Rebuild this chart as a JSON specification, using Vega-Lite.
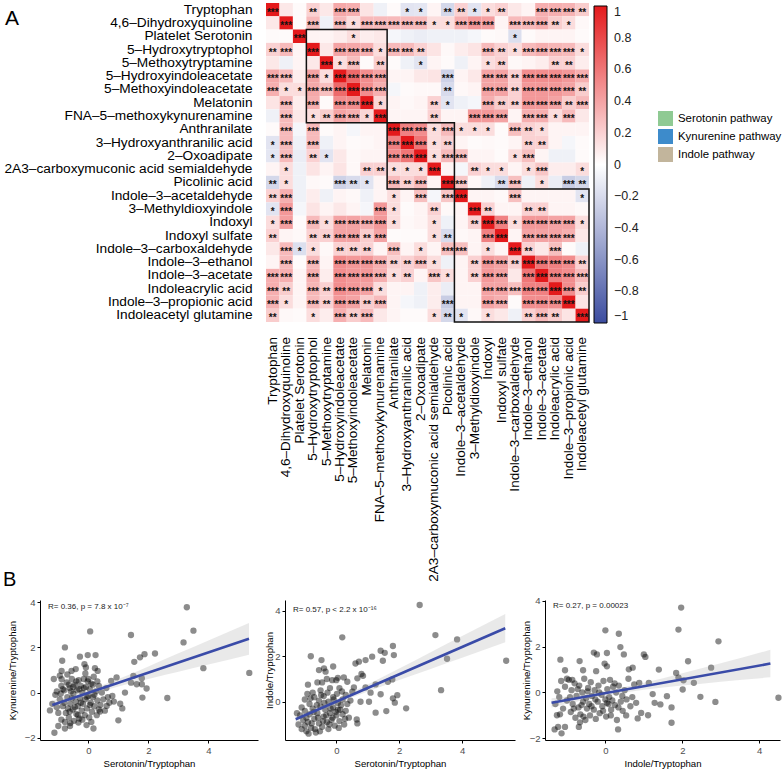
{
"$schema":"https://vega.github.io/schema/vega-lite/v6.json",
"padding":{"left":0,"top":2,"right":0,"bottom":0},
"background":"white",
"config":{"font":"Liberation Sans","view":{"stroke":null},"axis":{"grid":false},"title":{"fontWeight":"normal"}},
"datasets":{
"vars":[
{"k":1,"name":"Tryptophan","p":null},
{"k":2,"name":"4,6–Dihydroxyquinoline","p":null},
{"k":3,"name":"Platelet Serotonin","p":"Serotonin pathway"},
{"k":4,"name":"5–Hydroxytryptophol","p":"Serotonin pathway"},
{"k":5,"name":"5–Methoxytryptamine","p":"Serotonin pathway"},
{"k":6,"name":"5–Hydroxyindoleacetate","p":"Serotonin pathway"},
{"k":7,"name":"5–Methoxyindoleacetate","p":"Serotonin pathway"},
{"k":8,"name":"Melatonin","p":"Serotonin pathway"},
{"k":9,"name":"FNA–5–methoxykynurenamine","p":"Serotonin pathway"},
{"k":10,"name":"Anthranilate","p":"Kynurenine pathway"},
{"k":11,"name":"3–Hydroxyanthranilic acid","p":"Kynurenine pathway"},
{"k":12,"name":"2–Oxoadipate","p":"Kynurenine pathway"},
{"k":13,"name":"2A3–carboxymuconic acid semialdehyde","p":"Kynurenine pathway"},
{"k":14,"name":"Picolinic acid","p":"Kynurenine pathway"},
{"k":15,"name":"Indole–3–acetaldehyde","p":"Indole pathway"},
{"k":16,"name":"3–Methyldioxyindole","p":"Indole pathway"},
{"k":17,"name":"Indoxyl","p":"Indole pathway"},
{"k":18,"name":"Indoxyl sulfate","p":"Indole pathway"},
{"k":19,"name":"Indole–3–carboxaldehyde","p":"Indole pathway"},
{"k":20,"name":"Indole–3–ethanol","p":"Indole pathway"},
{"k":21,"name":"Indole–3–acetate","p":"Indole pathway"},
{"k":22,"name":"Indoleacrylic acid","p":"Indole pathway"},
{"k":23,"name":"Indole–3–propionic acid","p":"Indole pathway"},
{"k":24,"name":"Indoleacetyl glutamine","p":"Indole pathway"}
],
"heat":[
{"y":"Tryptophan","v":[1,0.1,0.02,0.2,0.1,0.38,0.35,0.12,-0.08,0.02,-0.15,-0.14,0.05,-0.22,0.2,-0.15,0.15,0.2,0.1,0.05,0.35,0.35,0.33,0.22],"s":["***","","","**","","***","***","","","","*","*","","**","**","*","*","**","","","***","***","***","**"]},
{"y":"4,6–Dihydroxyquinoline","v":[0.1,1,0.02,0.3,-0.08,0.3,0.15,0.3,0.3,0.3,0.3,0.3,0.15,0.15,0.35,0.45,0.42,0.05,0.3,0.3,0.35,0.22,0.15,0.03],"s":["","***","","***","","***","*","***","***","***","***","***","*","*","***","***","***","","***","***","***","**","*",""]},
{"y":"Platelet Serotonin","v":[0.02,0.02,1,0.05,0.05,0.08,0.15,0.08,0.1,-0.05,-0.08,-0.1,-0.08,-0.08,-0.08,-0.05,0.02,0.03,-0.18,0.02,0.05,0.05,0.05,0.02],"s":["","","***","","","","*","","","","","","","","","","","","*","","","","",""]},
{"y":"5–Hydroxytryptophol","v":[0.2,0.3,0.05,1,0.1,0.4,0.38,0.35,0.15,0.3,0.3,0.2,0.12,0.03,0.08,0.12,0.3,0.2,0.15,0.3,0.35,0.32,0.3,0.15],"s":["**","***","","***","","***","***","***","*","***","***","**","","","","","***","**","*","***","***","***","***","*"]},
{"y":"5–Methoxytryptamine","v":[0.1,-0.08,0.05,0.1,1,0.15,0.28,0.02,0.22,0.02,-0.08,-0.15,0.05,0.02,-0.08,0.05,0.15,0.2,0.03,0.05,0.08,0.2,0.2,0.08],"s":["","","","","***","*","***","","**","","","*","","","","","*","**","","","","**","**",""]},
{"y":"5–Hydroxyindoleacetate","v":[0.38,0.3,0.08,0.4,0.15,1,0.65,0.5,0.4,0.05,0.05,0.1,0.12,-0.25,0.05,0.1,0.4,0.4,0.2,0.5,0.5,0.5,0.45,0.35],"s":["***","***","","***","*","***","***","***","***","","","","","***","","","***","***","**","***","***","***","***","***"]},
{"y":"5–Methoxyindoleacetate","v":[0.35,0.15,0.15,0.38,0.28,0.65,1,0.5,0.35,-0.05,0.02,0.03,0.03,-0.2,0.03,0.05,0.4,0.4,0.2,0.45,0.45,0.45,0.4,0.22],"s":["***","*","*","***","***","***","***","***","***","","","","","**","","","***","***","**","***","***","***","***","**"]},
{"y":"Melatonin","v":[0.12,0.3,0.08,0.35,0.02,0.5,0.5,1,0.18,0.05,0.03,0.05,0.2,-0.15,-0.08,-0.05,0.35,0.22,0.2,0.45,0.45,0.4,0.22,0.3],"s":["","***","","***","","***","***","***","*","","","","**","*","","","***","**","**","***","***","***","**","***"]},
{"y":"FNA–5–methoxykynurenamine","v":[-0.08,0.3,0.1,0.15,0.22,0.4,0.35,0.18,1,0.05,0.05,0.05,0.2,0.05,0.05,0.45,0.45,0.4,0.05,0.35,0.35,0.15,0.3,0.1],"s":["","***","","*","**","***","***","*","***","","","","**","","","***","***","***","","***","***","*","***",""]},
{"y":"Anthranilate","v":[0.02,0.3,-0.05,0.3,0.02,0.05,-0.05,0.05,0.05,1,0.55,0.5,0.15,0.3,0.15,0.15,0.15,0.02,0.28,0.2,0.15,0.05,0.05,0.05],"s":["","***","","***","","","","","","***","***","***","*","***","*","*","*","","***","**","*","","",""]},
{"y":"3–Hydroxyanthranilic acid","v":[-0.15,0.3,-0.08,0.3,-0.08,0.05,0.02,0.03,0.05,0.55,1,0.6,0.15,0.2,0.05,0.02,0.03,0.02,0.05,0.2,0.2,0.05,-0.05,0.02],"s":["*","***","","***","","","","","","***","***","***","*","**","","","","","","**","**","","",""]},
{"y":"2–Oxoadipate","v":[-0.14,0.3,-0.1,0.2,-0.15,0.1,0.03,0.05,0.05,0.5,0.6,1,0.15,0.3,0.28,0.05,0.05,0.02,0.15,0.28,0.05,-0.08,-0.08,0.02],"s":["*","***","","**","*","","","","","***","***","***","*","***","***","","","","*","***","","","",""]},
{"y":"2A3–carboxymuconic acid semialdehyde","v":[0.05,0.15,-0.08,0.12,0.05,0.12,0.03,0.2,0.2,0.15,0.15,0.15,1,0.05,-0.05,0.2,0.15,0.15,0.05,0.15,0.25,0.08,0.08,0.15],"s":["","*","","","","","","**","**","*","*","*","***","","","**","*","*","","*","***","","","*"]},
{"y":"Picolinic acid","v":[-0.22,0.15,-0.08,0.03,0.02,-0.25,-0.2,-0.15,0.05,0.3,0.2,0.3,0.05,1,0.25,0.03,-0.08,-0.2,0.28,-0.08,0.15,-0.1,-0.28,-0.22],"s":["**","*","","","","***","**","*","","***","**","***","","***","***","","","**","***","","*","","***","**"]},
{"y":"Indole–3–acetaldehyde","v":[0.2,0.35,-0.08,0.08,-0.08,0.05,0.03,-0.08,0.05,0.15,0.05,0.28,-0.05,0.25,1,0.05,0.05,0.03,0.28,0.05,0.05,0.05,0.05,-0.15],"s":["**","***","","","","","","","","*","","***","","***","***","","","","***","","","","","*"]},
{"y":"3–Methyldioxyindole","v":[-0.15,0.45,-0.05,0.12,0.05,0.1,0.05,-0.05,0.45,0.15,0.02,0.05,0.2,0.03,0.05,1,0.2,0.05,0.05,0.2,0.2,0.05,0.05,0.03],"s":["*","***","","","","","","","***","*","","","**","","","***","**","","","**","**","","",""]},
{"y":"Indoxyl","v":[0.15,0.42,0.02,0.3,0.15,0.4,0.4,0.35,0.45,0.15,0.03,0.05,0.15,-0.08,0.05,0.2,1,0.55,0.15,0.45,0.45,0.4,0.4,0.15],"s":["*","***","","***","*","***","***","***","***","*","","","*","","","**","***","***","*","***","***","***","***","*"]},
{"y":"Indoxyl sulfate","v":[0.2,0.05,0.03,0.2,0.2,0.4,0.4,0.22,0.4,0.02,0.02,0.02,0.15,-0.2,0.03,0.05,0.55,1,0.05,0.4,0.4,0.4,0.35,0.1],"s":["**","","","**","**","***","***","**","***","","","","*","**","","","***","***","","***","***","***","***",""]},
{"y":"Indole–3–carboxaldehyde","v":[0.1,0.3,-0.18,0.15,0.03,0.2,0.2,0.2,0.05,0.28,0.05,0.15,0.05,0.28,0.28,0.05,0.15,0.05,1,0.2,0.1,0.28,0.02,-0.08],"s":["","***","*","*","","**","**","**","","***","","*","","***","***","","*","","***","**","","***","",""]},
{"y":"Indole–3–ethanol","v":[0.05,0.3,0.02,0.3,0.05,0.5,0.45,0.45,0.35,0.2,0.2,0.28,0.15,-0.08,0.05,0.2,0.45,0.4,0.2,1,0.6,0.55,0.5,0.2],"s":["","***","","***","","***","***","***","***","**","**","***","*","","","**","***","***","**","***","***","***","***","**"]},
{"y":"Indole–3–acetate","v":[0.35,0.35,0.05,0.35,0.08,0.5,0.45,0.45,0.35,0.15,0.2,0.05,0.25,0.15,0.05,0.2,0.45,0.4,0.1,0.6,1,0.55,0.5,0.3],"s":["***","***","","***","","***","***","***","***","*","**","","***","*","","**","***","***","","***","***","***","***","***"]},
{"y":"Indoleacrylic acid","v":[0.35,0.22,0.05,0.32,0.2,0.5,0.45,0.4,0.15,0.05,0.05,-0.08,0.08,-0.1,0.05,0.05,0.4,0.4,0.28,0.55,0.55,1,0.5,0.22],"s":["***","**","","***","**","***","***","***","*","","","","","","","","***","***","***","***","***","***","***","**"]},
{"y":"Indole–3–propionic acid","v":[0.33,0.15,0.05,0.3,0.2,0.45,0.4,0.22,0.3,0.05,-0.05,-0.08,0.08,-0.28,0.05,0.05,0.4,0.35,0.02,0.5,0.5,0.5,1,0.12],"s":["***","*","","***","**","***","***","**","***","","","","","***","","","***","***","","***","***","***","***",""]},
{"y":"Indoleacetyl glutamine","v":[0.22,0.03,0.02,0.15,0.08,0.35,0.22,0.3,0.1,0.05,0.02,0.02,0.15,-0.22,-0.15,0.03,0.15,0.1,-0.08,0.2,0.3,0.22,0.12,1],"s":["**","","","*","","***","**","***","","","","","*","**","*","","*","","","**","***","**","","***"]}
],
"boxes":[
{"x1":"5–Hydroxytryptophol","x2":"FNA–5–methoxykynurenamine","y1":"Platelet Serotonin","y2":"FNA–5–methoxykynurenamine"},
{"x1":"Anthranilate","x2":"Picolinic acid","y1":"Anthranilate","y2":"Picolinic acid"},
{"x1":"Indole–3–acetaldehyde","x2":"Indoleacetyl glutamine","y1":"Indole–3–acetaldehyde","y2":"Indoleacetyl glutamine"}
],
"p1":[{"x":[3.28,0.06,1.42,3.5,3.17,-0.78,2.22,1.87,1.72,1.53,3.83,5.36,-0.87,-0.28,-0.02,0.24,-0.13,-0.08,0.22,0.31,-0.89,-0.56,-0.42,-0.89,0.94,0.76,1.5,1.78,1.42,1.61,1.78,1.94,1.22,1.8,2.63,1.06,1.13,1.0,0.17,-1.13,-1.28,0.61,0.39,-0.78,-1.0,-0.61,-0.33,-0.06,-1.1,-1.05,-0.95,-0.9,-0.85,-0.8,-0.75,-0.72,-0.7,-0.65,-0.62,-0.6,-0.55,-0.52,-0.5,-0.48,-0.45,-0.42,-0.4,-0.38,-0.35,-0.32,-0.3,-0.28,-0.25,-0.22,-0.2,-0.18,-0.15,-0.12,-0.1,-0.08,-0.05,-0.02,0.0,0.03,0.05,0.08,0.1,0.12,0.15,0.18,0.2,0.25,0.28,0.3,0.35,0.4,0.45,0.5,0.55,0.6,0.65,0.7,0.8,0.85,-1.2,-1.15,-1.0,-0.95,-0.9,-0.85,-0.8,-0.7,-0.68,-0.6,-0.58,-0.55,-0.5,-0.45,-0.4,-0.35,-0.3,-0.25,-0.2,-0.15,-0.1,-0.05,0.0,0.05,0.1,0.15,0.2,0.3,0.35,-1.05,-0.92,-0.78,-0.65,-0.62],
"y":[3.78,2.71,2.55,2.74,2.22,2.0,1.73,1.7,1.56,1.36,1.08,0.87,1.41,1.59,1.66,1.66,1.26,1.11,1.08,0.96,0.96,0.96,1.04,0.59,0.67,0.52,0.74,0.64,0.44,0.37,0.37,0.18,0.0,-0.22,-0.24,-0.49,-0.7,-1.23,-1.59,-1.78,-0.79,-0.59,-0.84,-1.59,-1.48,-1.48,-1.33,-1.44,-0.1,0.05,-0.3,0.3,-0.6,0.1,-0.9,0.45,-0.2,-1.1,0.2,-0.5,0.6,-0.75,-0.05,-1.25,0.35,-0.4,-0.95,0.1,-0.6,0.55,-1.15,-0.25,0.3,-0.8,0.0,-0.5,0.6,-1.0,-0.3,0.25,-0.7,0.5,-0.15,-1.1,0.15,-0.45,0.4,-0.85,-0.2,0.7,-0.6,0.05,-1.0,-0.35,0.3,-0.55,0.0,-0.3,-0.8,0.2,-0.2,-0.45,-0.15,-0.4,-0.5,0.6,-0.9,0.75,-1.2,0.15,-0.45,0.8,-0.7,-1.35,0.05,-0.25,0.25,-0.65,0.5,-1.0,0.15,-0.45,-1.2,0.2,0.85,-0.2,0.6,-0.55,-1.3,0.35,-0.1,0.5,-0.75,-0.65,-0.05,-1.3,0.35,-0.85]}],
"p2":[{"x":[2.65,0.19,-0.81,3.15,3.84,5.4,3.52,3.33,1.8,1.41,1.54,1.83,1.14,1.48,0.93,0.72,0.61,0.8,0.85,0.67,1.78,1.64,0.56,0.93,1.25,0.51,1.94,1.8,1.41,1.09,0.77,1.04,1.86,2.22,1.25,1.59,0.65,0.67,-0.39,-0.34,-0.55,-0.47,-0.13,0.0,0.24,0.35,-0.1,0.05,-0.3,-0.6,-0.9,-0.75,-0.5,-0.2,0.1,0.3,-1.0,-0.85,-0.7,-0.55,-0.4,-0.25,-0.1,0.05,0.2,0.35,-1.2,-1.15,-1.1,-1.05,-1.0,-0.95,-0.9,-0.85,-0.8,-0.75,-0.7,-0.65,-0.6,-0.55,-0.5,-0.45,-0.4,-0.35,-0.3,-0.25,-0.2,-0.15,-0.1,-0.05,0.0,0.05,0.1,0.15,0.2,0.25,0.3,0.4,0.45,-1.25,-1.1,-0.95,-0.88,-0.82,-0.78,-0.72,-0.68,-0.62,-0.58,-0.52,-0.48,-0.42,-0.38,-0.32,-0.28,-0.22,-0.18,-0.12,-0.08,-0.02,0.02,0.08,0.12,0.18,-1.0,-0.92,-0.45,0.28],
"y":[4.25,2.83,2.0,2.93,2.74,1.8,1.89,0.51,2.45,2.24,2.15,2.05,1.98,1.8,1.83,1.76,1.68,1.22,1.14,1.03,0.98,0.88,0.63,0.63,0.76,0.44,0.29,0.15,0.33,0.4,0.0,0.0,-0.04,-0.29,-0.48,-0.41,-0.78,-0.95,1.47,1.32,1.39,1.83,0.95,0.95,1.07,0.88,1.55,1.05,1.0,0.85,0.75,0.4,0.5,0.6,0.6,0.3,0.1,-0.1,0.2,0.05,0.25,0.0,0.2,-0.05,0.1,-0.1,-1.0,-0.6,-1.2,-0.8,-0.4,-1.3,-0.9,-0.55,-1.15,-0.3,-0.75,-1.35,-0.5,-0.95,-0.2,-1.1,-0.65,-0.35,-0.9,-1.2,-0.5,-0.8,-0.25,-1.05,-0.6,-0.35,-0.85,-0.15,-0.55,-1.0,-0.4,-0.7,0.05,-0.5,-0.25,-0.7,-1.4,0.15,-0.95,-0.45,-1.2,-0.15,-0.7,-1.3,0.3,-0.85,-0.05,-0.6,0.4,-1.0,-0.3,-0.7,0.1,-0.45,0.35,-1.15,-0.35,0.45,-1.05,0.35,0.85,-0.75]}],
"p3":[{"x":[1.97,1.9,2.94,0.0,0.35,0.39,0.48,-0.3,-0.22,0.04,1.0,1.04,-1.17,-0.67,-0.02,0.04,2.15,1.39,2.75,-1.05,-0.58,-0.24,0.61,0.71,1.84,1.9,2.03,2.3,2.01,0.88,1.13,2.47,1.6,1.23,4.5,2.86,1.43,1.72,1.28,0.93,1.11,0.84,1.72,0.33,-1.26,-1.23,-1.32,-1.05,-1.14,-0.69,-1.3,-1.2,-1.15,-1.1,-1.05,-1.0,-0.95,-0.9,-0.88,-0.85,-0.8,-0.78,-0.75,-0.7,-0.68,-0.65,-0.6,-0.58,-0.55,-0.52,-0.5,-0.48,-0.45,-0.42,-0.4,-0.38,-0.35,-0.3,-0.28,-0.25,-0.2,-0.18,-0.15,-0.1,-0.08,-0.05,0.0,0.02,0.05,0.08,0.1,0.12,0.15,0.18,0.2,0.25,0.28,0.3,0.35,0.4,0.45,0.5,0.55,0.6,0.65,0.7,0.75,0.8,-1.25,-1.18,-1.0,-0.92,-0.82,-0.72,-0.62,-0.57,-0.46,-0.36,-0.26,-0.16,-0.06,0.04,0.14,0.24,0.34,0.44,-0.86,-0.66,0.54],
"y":[3.7,2.74,2.23,2.71,2.56,1.98,1.66,1.74,1.66,1.72,1.66,1.55,1.43,1.37,1.26,1.14,1.36,1.0,1.08,0.97,0.97,0.93,1.01,1.08,0.85,0.65,0.53,0.42,0.13,0.42,0.42,-0.19,-0.16,-0.07,-0.23,-0.41,-0.52,-0.65,-0.45,-0.89,-0.99,-1.13,-1.32,-1.61,-0.99,-1.5,-1.61,-1.5,-1.78,-1.5,-0.5,-0.2,0.5,-0.7,0.25,-0.35,0.55,-0.85,0.1,-0.5,0.4,-1.1,-0.15,-0.65,0.3,-0.95,0.0,-0.4,0.6,-1.2,-0.25,-0.7,0.2,-0.5,-1.0,0.45,-0.15,-0.75,0.1,-1.15,-0.4,0.3,-0.9,-0.1,-0.6,0.5,-0.3,-1.05,0.15,-0.5,-0.2,0.55,-0.75,-0.35,0.25,-0.55,0.0,-1.2,0.3,-0.4,-0.8,0.1,-0.3,0.6,-0.6,-0.2,0.35,-0.45,0.05,-0.95,0.6,-0.2,-0.7,0.15,-0.55,-1.05,0.05,-0.6,-0.3,0.0,-0.8,-0.45,-1.0,0.4,-0.65,-0.15,0.55,-1.3,-1.0]}],
"b1":[{"x":-1.2,"lo":-0.75,"hi":-0.35},{"x":0,"lo":-0.13,"hi":0.11},{"x":1,"lo":0.27,"hi":0.6},{"x":2,"lo":0.6,"hi":1.16},{"x":3,"lo":0.92,"hi":1.74},{"x":4,"lo":1.24,"hi":2.31},{"x":5.35,"lo":1.68,"hi":3.08}],
"b2":[{"x":-1.29,"lo":-0.97,"hi":-0.57},{"x":0,"lo":-0.1,"hi":0.11},{"x":1,"lo":0.45,"hi":0.76},{"x":2,"lo":0.96,"hi":1.46},{"x":3,"lo":1.44,"hi":2.18},{"x":4,"lo":1.93,"hi":2.89},{"x":5.37,"lo":2.61,"hi":3.85}],
"b3":[{"x":-1.4,"lo":-0.65,"hi":-0.25},{"x":0,"lo":-0.14,"hi":0.08},{"x":1,"lo":0.12,"hi":0.42},{"x":2,"lo":0.3,"hi":0.84},{"x":3,"lo":0.47,"hi":1.27},{"x":4.29,"lo":0.66,"hi":1.86}],
"l1":[{"x":-1.2,"y":-0.55},{"x":5.35,"y":2.38}],
"l2":[{"x":-1.29,"y":-0.77},{"x":5.37,"y":3.23}],
"l3":[{"x":-1.4,"y":-0.45},{"x":4.29,"y":1.26}],
"dummy":[{"d":0}]
},
"columns":1,
"align":"none",
"spacing":-13,
"concat":[
{
"title":{"text":"A","anchor":"start","frame":"bounds","offset":-27,"dx":5,"fontSize":21,"fontWeight":"normal","color":"#000"},
"spacing":2,
"hconcat":[
{"width":1,"height":1,"data":{"name":"dummy"},"mark":{"type":"rect","opacity":0},"encoding":{}},
{
"width":6,"height":319,
"data":{"name":"vars"},
"transform":[{"filter":{"field":"p","valid":true}}],
"mark":"rect",
"encoding":{
"y":{"field":"name","type":"nominal","scale":{"domain":["Tryptophan","4,6–Dihydroxyquinoline","Platelet Serotonin","5–Hydroxytryptophol","5–Methoxytryptamine","5–Hydroxyindoleacetate","5–Methoxyindoleacetate","Melatonin","FNA–5–methoxykynurenamine","Anthranilate","3–Hydroxyanthranilic acid","2–Oxoadipate","2A3–carboxymuconic acid semialdehyde","Picolinic acid","Indole–3–acetaldehyde","3–Methyldioxyindole","Indoxyl","Indoxyl sulfate","Indole–3–carboxaldehyde","Indole–3–ethanol","Indole–3–acetate","Indoleacrylic acid","Indole–3–propionic acid","Indoleacetyl glutamine"],"paddingInner":0,"paddingOuter":0},"axis":{"title":null,"ticks":false,"domain":false,"labelFontSize":13.7,"labelColor":"#000","labelPadding":5,"labelLimit":400,"labelOverlap":false}},
"fill":{"field":"p","type":"nominal","scale":{"domain":["Serotonin pathway","Kynurenine pathway","Indole pathway"],"range":["#8FCA93","#3D8BCB","#C2B59C"]},"legend":{"orient":"none","legendX":658,"legendY":108,"title":null,"symbolType":"square","symbolSize":225,"symbolStrokeWidth":0,"symbolOpacity":1,"labelFontSize":11.4,"labelColor":"#000","rowPadding":3,"labelOffset":5,"padding":0}}
}
},
{
"bounds":"flush",
"spacing":4,
"vconcat":[
{
"width":323,"height":319,
"layer":[
{
"data":{"name":"heat"},
"transform":[{"flatten":["v","s"]},{"window":[{"op":"row_number","as":"k"}],"groupby":["y"]},{"lookup":"k","from":{"data":{"name":"vars"},"key":"k","fields":["name"]},"as":["x"]}],
"mark":"rect",
"encoding":{
"x":{"field":"x","type":"nominal","scale":{"domain":["Tryptophan","4,6–Dihydroxyquinoline","Platelet Serotonin","5–Hydroxytryptophol","5–Methoxytryptamine","5–Hydroxyindoleacetate","5–Methoxyindoleacetate","Melatonin","FNA–5–methoxykynurenamine","Anthranilate","3–Hydroxyanthranilic acid","2–Oxoadipate","2A3–carboxymuconic acid semialdehyde","Picolinic acid","Indole–3–acetaldehyde","3–Methyldioxyindole","Indoxyl","Indoxyl sulfate","Indole–3–carboxaldehyde","Indole–3–ethanol","Indole–3–acetate","Indoleacrylic acid","Indole–3–propionic acid","Indoleacetyl glutamine"],"paddingInner":0,"paddingOuter":0},"axis":null},
"y":{"field":"y","type":"nominal","scale":{"domain":["Tryptophan","4,6–Dihydroxyquinoline","Platelet Serotonin","5–Hydroxytryptophol","5–Methoxytryptamine","5–Hydroxyindoleacetate","5–Methoxyindoleacetate","Melatonin","FNA–5–methoxykynurenamine","Anthranilate","3–Hydroxyanthranilic acid","2–Oxoadipate","2A3–carboxymuconic acid semialdehyde","Picolinic acid","Indole–3–acetaldehyde","3–Methyldioxyindole","Indoxyl","Indoxyl sulfate","Indole–3–carboxaldehyde","Indole–3–ethanol","Indole–3–acetate","Indoleacrylic acid","Indole–3–propionic acid","Indoleacetyl glutamine"],"paddingInner":0,"paddingOuter":0},"axis":null},
"color":{"field":"v","type":"quantitative","scale":{"domain":[-1,0,1],"range":["#3B4C9F","#FFFFFF","#E41A1C"],"interpolate":"rgb"},"legend":{"orient":"none","legendX":594,"legendY":3,"title":null,"direction":"vertical","gradientLength":317,"gradientThickness":13,"gradientStrokeColor":"#000","gradientStrokeWidth":1,"values":[-1,-0.8,-0.6,-0.4,-0.2,0,0.2,0.4,0.6,0.8,1],"format":"~g","labelFontSize":12.5,"labelColor":"#222","labelOffset":7,"padding":0}}
}
},
{
"data":{"name":"heat"},
"transform":[{"flatten":["v","s"]},{"window":[{"op":"row_number","as":"k"}],"groupby":["y"]},{"lookup":"k","from":{"data":{"name":"vars"},"key":"k","fields":["name"]},"as":["x"]}],
"mark":{"type":"text","fontSize":10,"fontWeight":"bold","baseline":"alphabetic","dy":6,"color":"#111"},
"encoding":{
"x":{"field":"x","type":"nominal"},
"y":{"field":"y","type":"nominal"},
"text":{"field":"s"}
}
},
{
"data":{"name":"boxes"},
"mark":{"type":"rect","fillOpacity":0,"stroke":"#111","strokeWidth":1.5},
"encoding":{
"x":{"field":"x1","type":"nominal","bandPosition":0},
"x2":{"field":"x2","bandPosition":1},
"y":{"field":"y1","type":"nominal","bandPosition":0},
"y2":{"field":"y2","bandPosition":1}
}
}
]
},
{
"width":323,"height":6.5,
"data":{"name":"vars"},
"transform":[{"filter":{"field":"p","valid":true}}],
"mark":"rect",
"encoding":{
"x":{"field":"name","type":"nominal","scale":{"domain":["Tryptophan","4,6–Dihydroxyquinoline","Platelet Serotonin","5–Hydroxytryptophol","5–Methoxytryptamine","5–Hydroxyindoleacetate","5–Methoxyindoleacetate","Melatonin","FNA–5–methoxykynurenamine","Anthranilate","3–Hydroxyanthranilic acid","2–Oxoadipate","2A3–carboxymuconic acid semialdehyde","Picolinic acid","Indole–3–acetaldehyde","3–Methyldioxyindole","Indoxyl","Indoxyl sulfate","Indole–3–carboxaldehyde","Indole–3–ethanol","Indole–3–acetate","Indoleacrylic acid","Indole–3–propionic acid","Indoleacetyl glutamine"],"paddingInner":0,"paddingOuter":0},"axis":{"title":null,"orient":"bottom","ticks":false,"domain":false,"labelAngle":270,"labelFontSize":13.5,"labelColor":"#000","labelPadding":4,"labelLimit":400,"labelOverlap":false}},
"fill":{"field":"p","type":"nominal"}
}
}
]
}
]
},
{
"title":{"text":"B","anchor":"start","frame":"bounds","offset":6,"dx":3,"fontSize":20,"fontWeight":"normal","color":"#000"},
"spacing":6,
"hconcat":[
{"width":1,"height":1,"data":{"name":"dummy"},"mark":{"type":"rect","opacity":0},"encoding":{}},
{
"width":218,"height":140,
"title":{"text":"R= 0.36, p = 7.8 x 10⁻⁷","anchor":"start","frame":"group","offset":-14,"dx":8,"fontSize":8,"fontWeight":"normal","color":"#222"},
"layer":[
{"data":{"name":"p1"},"transform":[{"flatten":["x","y"]}],"mark":{"type":"circle","size":40,"color":"#000","opacity":0.45},
"encoding":{"x":{"field":"x","type":"quantitative","scale":{"domain":[-1.61,5.65],"nice":false,"zero":false},"axis":{"title":"Serotonin/Tryptophan","values":[0,2,4],"domainColor":"#000","tickColor":"#000","tickSize":3,"labelFontSize":9.5,"labelColor":"#4D4D4D","titleFontSize":9.6,"titleFontWeight":"normal","titleColor":"#000","titlePadding":4,"labelPadding":2}},
"y":{"field":"y","type":"quantitative","scale":{"domain":[-2.1,4.1],"nice":false,"zero":false},"axis":{"title":"Kynurenine/Tryptophan","values":[-2,0,2,4],"domainColor":"#000","tickColor":"#000","tickSize":3,"labelFontSize":9.5,"labelColor":"#4D4D4D","titleFontSize":9.6,"titleFontWeight":"normal","titleColor":"#000","titlePadding":7,"labelPadding":2}}}},
{"data":{"name":"b1"},"mark":{"type":"area","color":"#999","opacity":0.22,"interpolate":"monotone"},"encoding":{"x":{"field":"x","type":"quantitative"},"y":{"field":"lo","type":"quantitative"},"y2":{"field":"hi"}}},
{"data":{"name":"l1"},"mark":{"type":"line","color":"#3A4BA8","strokeWidth":2.6},"encoding":{"x":{"field":"x","type":"quantitative"},"y":{"field":"y","type":"quantitative"}}}
]
},
{
"width":230,"height":140,
"title":{"text":"R= 0.57, p < 2.2 x 10⁻¹⁶","anchor":"start","frame":"group","offset":-14,"dx":8,"fontSize":8,"fontWeight":"normal","color":"#222"},
"layer":[
{"data":{"name":"p2"},"transform":[{"flatten":["x","y"]}],"mark":{"type":"circle","size":40,"color":"#000","opacity":0.45},
"encoding":{"x":{"field":"x","type":"quantitative","scale":{"domain":[-1.63,5.68],"nice":false,"zero":false},"axis":{"title":"Serotonin/Tryptophan","values":[0,2,4],"domainColor":"#000","tickColor":"#000","tickSize":3,"labelFontSize":9.5,"labelColor":"#4D4D4D","titleFontSize":9.6,"titleFontWeight":"normal","titleColor":"#000","titlePadding":4,"labelPadding":2}},
"y":{"field":"y","type":"quantitative","scale":{"domain":[-1.68,4.47],"nice":false,"zero":false},"axis":{"title":"Indole/Tryptophan","values":[0,2,4],"domainColor":"#000","tickColor":"#000","tickSize":3,"labelFontSize":9.5,"labelColor":"#4D4D4D","titleFontSize":9.6,"titleFontWeight":"normal","titleColor":"#000","titlePadding":0,"labelPadding":2}}}},
{"data":{"name":"b2"},"mark":{"type":"area","color":"#999","opacity":0.22,"interpolate":"monotone"},"encoding":{"x":{"field":"x","type":"quantitative"},"y":{"field":"lo","type":"quantitative"},"y2":{"field":"hi"}}},
{"data":{"name":"l2"},"mark":{"type":"line","color":"#3A4BA8","strokeWidth":2.6},"encoding":{"x":{"field":"x","type":"quantitative"},"y":{"field":"y","type":"quantitative"}}}
]
},
{
"width":235,"height":140,
"title":{"text":"R= 0.27, p = 0.00023","anchor":"start","frame":"group","offset":-14,"dx":8,"fontSize":8,"fontWeight":"normal","color":"#222"},
"layer":[
{"data":{"name":"p3"},"transform":[{"flatten":["x","y"]}],"mark":{"type":"circle","size":40,"color":"#000","opacity":0.45},
"encoding":{"x":{"field":"x","type":"quantitative","scale":{"domain":[-1.57,4.54],"nice":false,"zero":false},"axis":{"title":"Indole/Tryptophan","values":[0,2,4],"domainColor":"#000","tickColor":"#000","tickSize":3,"labelFontSize":9.5,"labelColor":"#4D4D4D","titleFontSize":9.6,"titleFontWeight":"normal","titleColor":"#000","titlePadding":4,"labelPadding":2}},
"y":{"field":"y","type":"quantitative","scale":{"domain":[-2.07,4.03],"nice":false,"zero":false},"axis":{"title":"Kynurenine/Tryptophan","values":[-2,0,2,4],"domainColor":"#000","tickColor":"#000","tickSize":3,"labelFontSize":9.5,"labelColor":"#4D4D4D","titleFontSize":9.6,"titleFontWeight":"normal","titleColor":"#000","titlePadding":-2,"labelPadding":2}}}},
{"data":{"name":"b3"},"mark":{"type":"area","color":"#999","opacity":0.22,"interpolate":"monotone"},"encoding":{"x":{"field":"x","type":"quantitative"},"y":{"field":"lo","type":"quantitative"},"y2":{"field":"hi"}}},
{"data":{"name":"l3"},"mark":{"type":"line","color":"#3A4BA8","strokeWidth":2.6},"encoding":{"x":{"field":"x","type":"quantitative"},"y":{"field":"y","type":"quantitative"}}}
]
}
]
}
]
}
